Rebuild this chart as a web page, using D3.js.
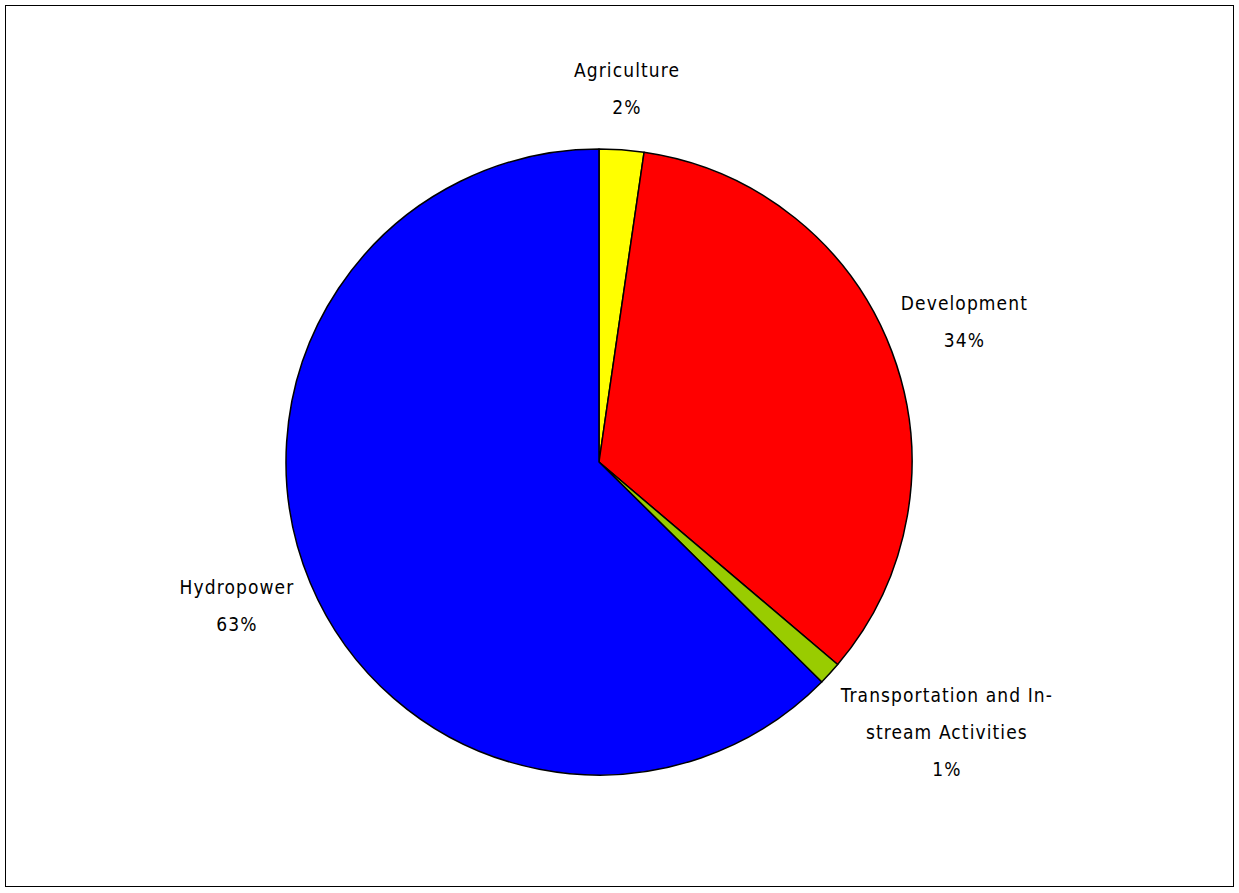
<!DOCTYPE html>
<html><head><meta charset="utf-8">
<script src="https://cdn.jsdelivr.net/npm/d3@7"></script>
<style>body{margin:0;background:#fff}</style>
</head><body>
<svg id="c" width="1239" height="893"></svg>
<script>
const categories = ["Agriculture", "Development", "Transportation and In-|stream Activities", "Hydropower"];
const values = [2.3, 33.9, 1.2, 62.6];
const percentLabels = ["2%", "34%", "1%", "63%"];
const colors = ["#FFFF00", "#FF0000", "#99CC00", "#0000FF"];

const svg = d3.select("#c");
svg.append("rect").attr("x", 5.5).attr("y", 5.5).attr("width", 1228).attr("height", 881)
  .attr("fill", "#fff").attr("stroke", "#000").attr("stroke-width", 1);

const cx = 599, cy = 462, R = 313;
const data = categories.map((c, i) => ({name: c, value: values[i], pct: percentLabels[i], color: colors[i]}));
const pie = d3.pie().value(d => d.value).sort(null);
const arc = d3.arc().innerRadius(0).outerRadius(R);
const g = svg.append("g").attr("transform", `translate(${cx},${cy})`);
const arcs = pie(data);
g.selectAll("path").data(arcs).join("path")
  .attr("d", arc).attr("fill", d => d.data.color)
  .attr("stroke", "#000").attr("stroke-width", 1.5).attr("stroke-linejoin", "round");

const fontFamily = "'DejaVu Sans Condensed', 'DejaVu Sans', sans-serif";
const lh = 37, fs = 19;
// label layout tweaks (outward push and vertical nudge)
const labelPush = [0, -8, 30, 0];
const labelNudgeY = [-2, -11, -14, 0];
arcs.forEach((a, k) => {
  const lines = a.data.name.split("|").concat([a.data.pct]);
  const t = g.append("text").attr("font-family", fontFamily).attr("font-size", fs)
    .attr("text-anchor", "middle").attr("fill", "#000").attr("letter-spacing", 1.1);
  lines.forEach((l, i) => t.append("tspan").attr("x", 0).attr("dy", i === 0 ? 0 : lh).text(l));
  const bb = t.node().getBBox();
  const w = bb.width, h = lh * lines.length;
  const ang = (a.startAngle + a.endAngle) / 2;
  const r0 = 335 + labelPush[k];
  const px = Math.sin(ang) * r0 + Math.sin(ang) * w / 2;
  const py = -Math.cos(ang) * r0 - Math.cos(ang) * h / 2 + labelNudgeY[k];
  const firstBaseline = py - h / 2 + lh / 2 + fs * 0.35;
  t.attr("transform", `translate(${px},${firstBaseline})`);
});
</script>
</body></html>
